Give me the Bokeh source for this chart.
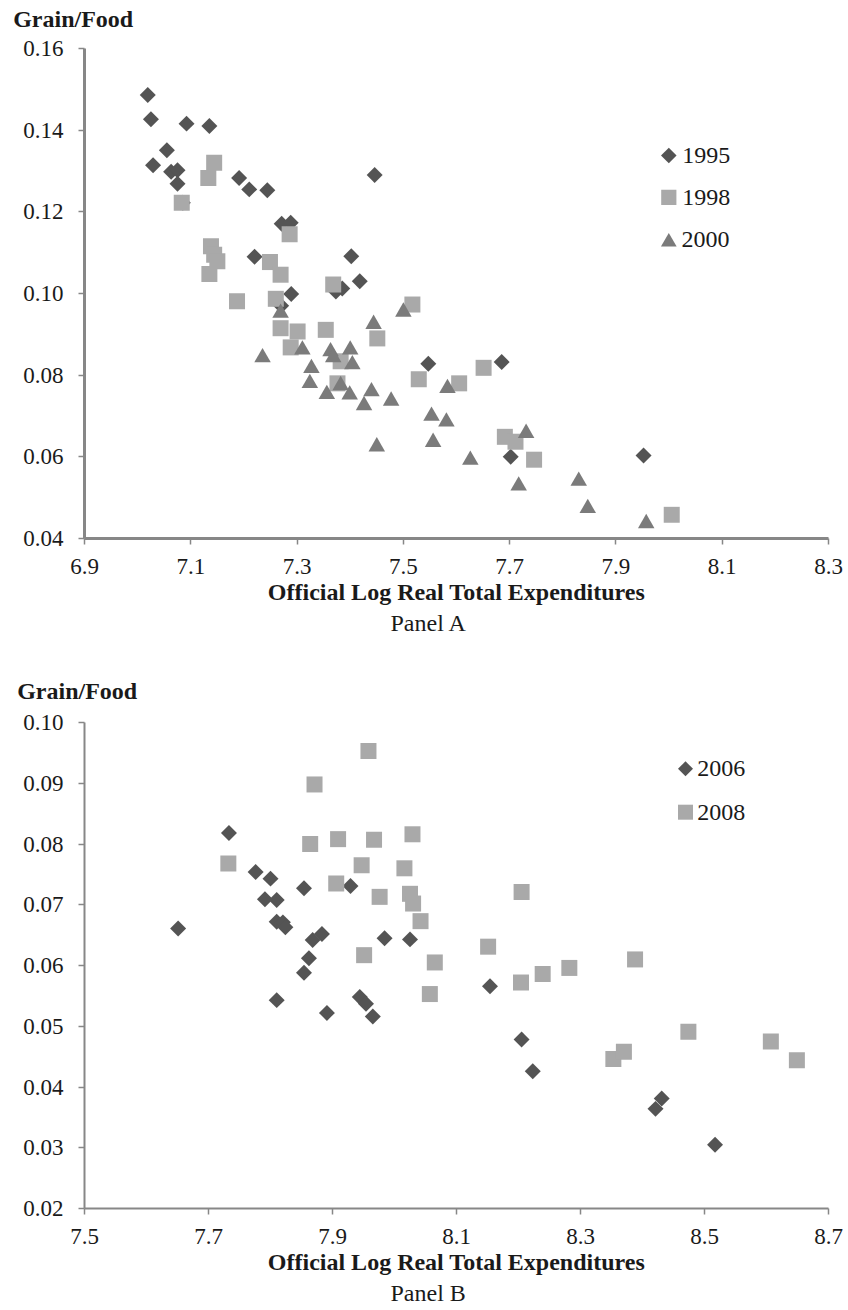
import numpy as np
from bokeh.plotting import figure
from bokeh.models import Range1d, FixedTicker, PrintfTickFormatter, Label, Title
from bokeh.layouts import column
from bokeh.embed import file_html
from bokeh.resources import INLINE

# ---------------- data: Panel A ----------------
years_a = ["1995", "1998", "2000"]
x_1995 = [7.019, 7.025, 7.092, 7.135, 7.055, 7.029, 7.063, 7.075, 7.075, 7.085, 7.191, 7.210,
          7.244, 7.271, 7.288, 7.220, 7.446, 7.402, 7.418, 7.289, 7.373, 7.385, 7.270, 7.547,
          7.685, 7.702, 7.952]
y_1995 = [0.1486, 0.1427, 0.1416, 0.1410, 0.1351, 0.1314, 0.1298, 0.1302, 0.1269, 0.1222, 0.1283,
          0.1255, 0.1253, 0.1171, 0.1173, 0.1090, 0.1290, 0.1091, 0.1030, 0.0999, 0.1005, 0.1012,
          0.0970, 0.0828, 0.0832, 0.0600, 0.0603]
x_1998 = [7.144, 7.133, 7.083, 7.138, 7.144, 7.150, 7.135, 7.249, 7.269, 7.286, 7.368, 7.187,
          7.260, 7.517, 7.269, 7.301, 7.288, 7.354, 7.451, 7.382, 7.376, 7.529, 7.605, 7.651,
          7.691, 7.711, 7.746, 8.005]
y_1998 = [0.1320, 0.1283, 0.1222, 0.1116, 0.1095, 0.1079, 0.1048, 0.1077, 0.1046, 0.1145, 0.1022,
          0.0981, 0.0987, 0.0973, 0.0915, 0.0907, 0.0868, 0.0911, 0.0890, 0.0834, 0.0780, 0.0790,
          0.0780, 0.0818, 0.0649, 0.0637, 0.0593, 0.0458]
x_2000 = [7.269, 7.235, 7.310, 7.363, 7.368, 7.400, 7.404, 7.327, 7.324, 7.356, 7.382, 7.399,
          7.440, 7.426, 7.444, 7.500, 7.477, 7.450, 7.553, 7.581, 7.583, 7.556, 7.626, 7.731,
          7.717, 7.830, 7.847, 7.957]
y_2000 = [0.0952, 0.0843, 0.0862, 0.0858, 0.0843, 0.0862, 0.0826, 0.0817, 0.0780, 0.0753, 0.0775,
          0.0752, 0.0760, 0.0726, 0.0925, 0.0955, 0.0737, 0.0625, 0.0700, 0.0686, 0.0768, 0.0636,
          0.0592, 0.0658, 0.0529, 0.0541, 0.0474, 0.0437]
xticks_a = [6.9, 7.1, 7.3, 7.5, 7.7, 7.9, 8.1, 8.3]
yticks_a = [0.04, 0.06, 0.08, 0.10, 0.12, 0.14, 0.16]

# ---------------- data: Panel B ----------------
years_b = ["2006", "2008"]
x_2006 = [7.651, 7.733, 7.776, 7.800, 7.791, 7.810, 7.810, 7.820, 7.824, 7.854, 7.868, 7.883,
          7.862, 7.854, 7.810, 7.891, 7.929, 7.984, 8.025, 7.944, 7.954, 7.965, 8.154, 8.205,
          8.223, 8.421, 8.431, 8.517]
y_2006 = [0.0661, 0.0818, 0.0754, 0.0743, 0.0709, 0.0708, 0.0672, 0.0671, 0.0663, 0.0727, 0.0642,
          0.0652, 0.0612, 0.0588, 0.0543, 0.0522, 0.0731, 0.0645, 0.0643, 0.0548, 0.0537, 0.0516,
          0.0566, 0.0478, 0.0426, 0.0364, 0.0381, 0.0305]
x_2008 = [7.732, 7.871, 7.958, 7.864, 7.909, 7.967, 8.029, 7.947, 8.016, 7.906, 7.976, 8.025,
          8.030, 8.042, 7.951, 8.065, 8.057, 8.205, 8.151, 8.204, 8.239, 8.282, 8.388, 8.474,
          8.353, 8.370, 8.607, 8.649]
y_2008 = [0.0768, 0.0898, 0.0953, 0.0800, 0.0808, 0.0807, 0.0816, 0.0765, 0.0760, 0.0735, 0.0713,
          0.0718, 0.0702, 0.0673, 0.0617, 0.0605, 0.0553, 0.0721, 0.0631, 0.0572, 0.0586, 0.0596,
          0.0610, 0.0491, 0.0446, 0.0458, 0.0475, 0.0444]
xticks_b = [7.5, 7.7, 7.9, 8.1, 8.3, 8.5, 8.7]
yticks_b = [0.02, 0.03, 0.04, 0.05, 0.06, 0.07, 0.08, 0.09, 0.10]

SERIF = "Liberation Serif"
TXT = "#1a1a1a"
AXIS = "#878787"
DARK = "#545454"
MID = "#7b7b7b"
LIGHT = "#a9a9a9"

FIG_W, FIG_H = 848, 655
BORDER_L, BORDER_R = 84, 20


def make_fig(xr, yr, xticks, yticks, min_top, min_bottom, axis_w):
    p = figure(width=FIG_W, height=FIG_H, x_range=Range1d(*xr), y_range=Range1d(*yr),
               output_backend="svg", toolbar_location=None,
               min_border_left=BORDER_L, min_border_right=BORDER_R,
               min_border_top=min_top, min_border_bottom=min_bottom)
    p.grid.visible = False
    p.outline_line_color = None
    p.background_fill_color = "white"
    p.border_fill_color = "white"
    p.xaxis.ticker = FixedTicker(ticks=xticks)
    p.yaxis.ticker = FixedTicker(ticks=yticks)
    p.yaxis.bounds = (yticks[0], yticks[-1])
    p.xaxis.formatter = PrintfTickFormatter(format="%.1f")
    p.yaxis.formatter = PrintfTickFormatter(format="%.2f")
    for ax in (p.xaxis, p.yaxis):
        ax.axis_line_color = AXIS
        ax.axis_line_width = axis_w
        ax.major_tick_line_color = AXIS
        ax.major_tick_line_width = 1.5
        ax.major_tick_in = 0
        ax.major_tick_out = 6
        ax.minor_tick_line_color = None
        ax.major_label_text_font = SERIF
        ax.major_label_text_font_size = "23px"
        ax.major_label_text_color = TXT
    p.xaxis.major_label_standoff = 14
    p.yaxis.major_label_standoff = 15
    p.xaxis.axis_label = "Official Log Real Total Expenditures"
    p.xaxis.axis_label_text_font = SERIF
    p.xaxis.axis_label_text_font_style = "bold"
    p.xaxis.axis_label_text_font_size = "24px"
    p.xaxis.axis_label_text_color = TXT
    p.xaxis.axis_label_standoff = 2
    return p


def to_data(xr, yr, top, bottom, px, py):
    """canvas pixel of a legend key -> data coordinates of the frame"""
    fw = FIG_W - BORDER_L - BORDER_R
    x = xr[0] + (px - BORDER_L) * (xr[1] - xr[0]) / fw
    y = yr[1] - (py - top) * (yr[1] - yr[0]) / (bottom - top)
    return x, y


def key_text(p, text, px, py, bottom):
    p.add_layout(Label(x=px - BORDER_L, y=bottom - py, x_units="screen", y_units="screen",
                       text=text, text_font=SERIF, text_font_size="24px", text_color=TXT,
                       text_align="left", text_baseline="middle"))


def titles(p, name, gx, g_standoff, panel_standoff):
    p.add_layout(Title(text="Grain/Food", align="left", offset=gx - BORDER_L,
                       vertical_align="bottom", standoff=g_standoff, text_font=SERIF,
                       text_font_size="24px", text_font_style="bold", text_color=TXT), "above")
    p.add_layout(Title(text=name, align="left", offset=390 - BORDER_L,
                       vertical_align="top", standoff=panel_standoff, text_font=SERIF,
                       text_font_size="24px", text_font_style="normal", text_color=TXT), "below")


# ---------------- Panel A ----------------
# frame reaches 14 px above the 0.16 tick so the heading can sit higher
TOP_A, Y16_A, BOT_A = 34, 48, 538
XR_A = (6.9, 8.3)
YR_A = (0.04, 0.16 + (Y16_A - TOP_A) * (0.16 - 0.04) / (BOT_A - Y16_A))
pa = make_fig(XR_A, YR_A, xticks_a, yticks_a, TOP_A, FIG_H - BOT_A, 3)
pa.scatter(x_1995, y_1995, marker="square", angle=np.pi / 4, size=11.3,
           fill_color=DARK, line_color=None)
pa.scatter(x_1998, y_1998, marker="square", size=16, fill_color=LIGHT, line_color=None)
pa.scatter(x_2000, y_2000, marker="triangle", size=16.5, fill_color=MID, line_color=None)

# legend keys (layout positions in canvas pixels)
kx, ky = to_data(XR_A, YR_A, TOP_A, BOT_A, 668.3, 155)
pa.scatter([kx], [ky], marker="square", angle=np.pi / 4, size=11, fill_color=DARK, line_color=None)
kx, ky = to_data(XR_A, YR_A, TOP_A, BOT_A, 668.3, 196.8)
pa.scatter([kx], [ky], marker="square", size=15.2, fill_color=LIGHT, line_color=None)
kx, ky = to_data(XR_A, YR_A, TOP_A, BOT_A, 668.3, 241.5)
pa.scatter([kx], [ky], marker="triangle", size=15.7, fill_color=MID, line_color=None)
key_text(pa, years_a[0], 681.7, 155.0, BOT_A)
key_text(pa, years_a[1], 681.7, 196.8, BOT_A)
key_text(pa, years_a[2], 681.0, 239.3, BOT_A)
titles(pa, "Panel A", 12.7, 5, 4)

# ---------------- Panel B ----------------
XR_B, YR_B, TOP_B, BOT_B = (7.5, 8.7), (0.02, 0.10), 67, 553
pb = make_fig(XR_B, YR_B, xticks_b, yticks_b, TOP_B, FIG_H - BOT_B, 2)
pb.scatter(x_2006, y_2006, marker="square", angle=np.pi / 4, size=11.3,
           fill_color=DARK, line_color=None)
pb.scatter(x_2008, y_2008, marker="square", size=16, fill_color=LIGHT, line_color=None)
kx, ky = to_data(XR_B, YR_B, TOP_B, BOT_B, 685, 113.3)
pb.scatter([kx], [ky], marker="square", angle=np.pi / 4, size=10.6, fill_color=DARK, line_color=None)
kx, ky = to_data(XR_B, YR_B, TOP_B, BOT_B, 685, 156.7)
pb.scatter([kx], [ky], marker="square", size=15, fill_color=LIGHT, line_color=None)
key_text(pb, years_b[0], 696.7, 113.3, BOT_B)
key_text(pb, years_b[1], 696.7, 156.7, BOT_B)
titles(pb, "Panel B", 16.7, 38, 5)

layout = column(pa, pb, spacing=0)
open("out.html", "w").write(file_html(layout, INLINE))
